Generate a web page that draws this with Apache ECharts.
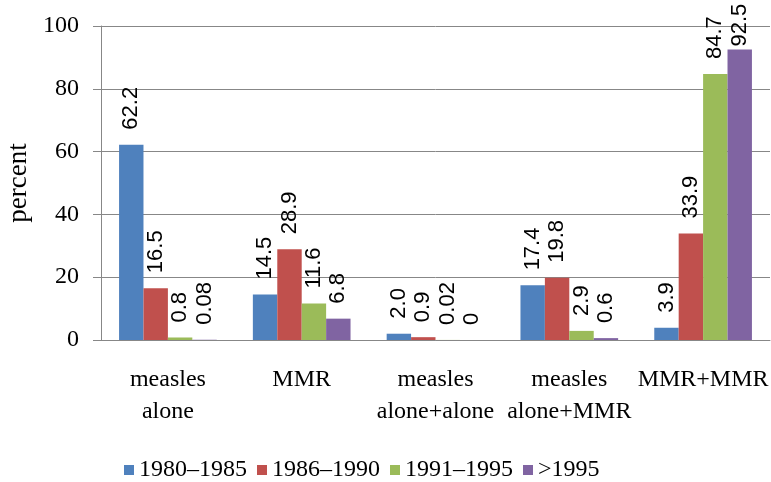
<!DOCTYPE html>
<html><head><meta charset="utf-8">
<script src="https://cdn.jsdelivr.net/npm/echarts@6/dist/echarts.min.js"></script>
<style>html,body{margin:0;padding:0;background:#fff}#c{width:771px;height:482px}</style>
</head><body><div id="c"></div>
<script>
const categories = ['measles\nalone', 'MMR', 'measles\nalone+alone', 'measles\nalone+MMR', 'MMR+MMR'];
const seriesNames = ['1980–1985', '1986–1990', '1991–1995', '>1995'];
const s1980 = [62.2, 14.5, 2.0, 17.4, 3.9];
const s1986 = [16.5, 28.9, 0.9, 19.8, 33.9];
const s1991 = [0.8, 11.6, 0.02, 2.9, 84.7];
const s1995 = [0.08, 6.8, 0, 0.6, 92.5];
const l1980 = ['62.2', '14.5', '2.0', '17.4', '3.9'];
const l1986 = ['16.5', '28.9', '0.9', '19.8', '33.9'];
const l1991 = ['0.8', '11.6', '0.02', '2.9', '84.7'];
const l1995 = ['0.08', '6.8', '0', '0.6', '92.5'];
const yTicks = [0, 20, 40, 60, 80, 100];

const colors = ['#4F81BD', '#C0504D', '#9BBB59', '#8064A2'];
const values = [s1980, s1986, s1991, s1995];
const labels = [l1980, l1986, l1991, l1995];
const serif = 'Liberation Serif';
const chart = echarts.init(document.getElementById('c'));
chart.setOption({
  animation: false,
  grid: {left: 101, right: 1, top: 26, bottom: 142, outerBoundsMode: 'none', containLabel: false},
  legend: {
    left: 119, top: 453, itemWidth: 10, itemHeight: 10, itemGap: 10,
    icon: 'rect',
    textStyle: {fontFamily: serif, fontSize: 24, color: '#000'},
    data: seriesNames
  },
  xAxis: {
    type: 'category', data: categories,
    axisLine: {lineStyle: {color: '#878787'}},
    axisTick: {length: 8, lineStyle: {color: '#878787'}},
    axisLabel: {fontFamily: serif, fontSize: 24, color: '#000', margin: 24, lineHeight: 32, interval: 0}
  },
  yAxis: {
    type: 'value', min: yTicks[0], max: yTicks[yTicks.length - 1], interval: 20,
    name: 'percent', nameLocation: 'middle', nameGap: 62, nameRotate: 90,
    nameTextStyle: {fontFamily: serif, fontSize: 27, color: '#000'},
    axisLine: {show: true, lineStyle: {color: '#878787'}},
    axisTick: {show: true, length: 8, lineStyle: {color: '#878787'}},
    splitLine: {lineStyle: {color: '#878787'}},
    axisLabel: {fontFamily: serif, fontSize: 24, color: '#000', margin: 22}
  },
  series: seriesNames.map((n, i) => ({
    name: n, type: 'bar', barGap: '0%', barCategoryGap: '27%',
    data: values[i].map(v => v > 90 ? {value: v, label: {distance: 0}} : v),
    itemStyle: {color: colors[i]},
    labelLayout: () => ({dx: 3}),
    label: {
      show: true, position: 'top', rotate: 90, align: 'left', verticalAlign: 'middle',
      distance: 12, fontFamily: 'Liberation Sans', fontSize: 22, color: '#000',
      formatter: p => labels[i][p.dataIndex]
    }
  }))
});
</script></body></html>
